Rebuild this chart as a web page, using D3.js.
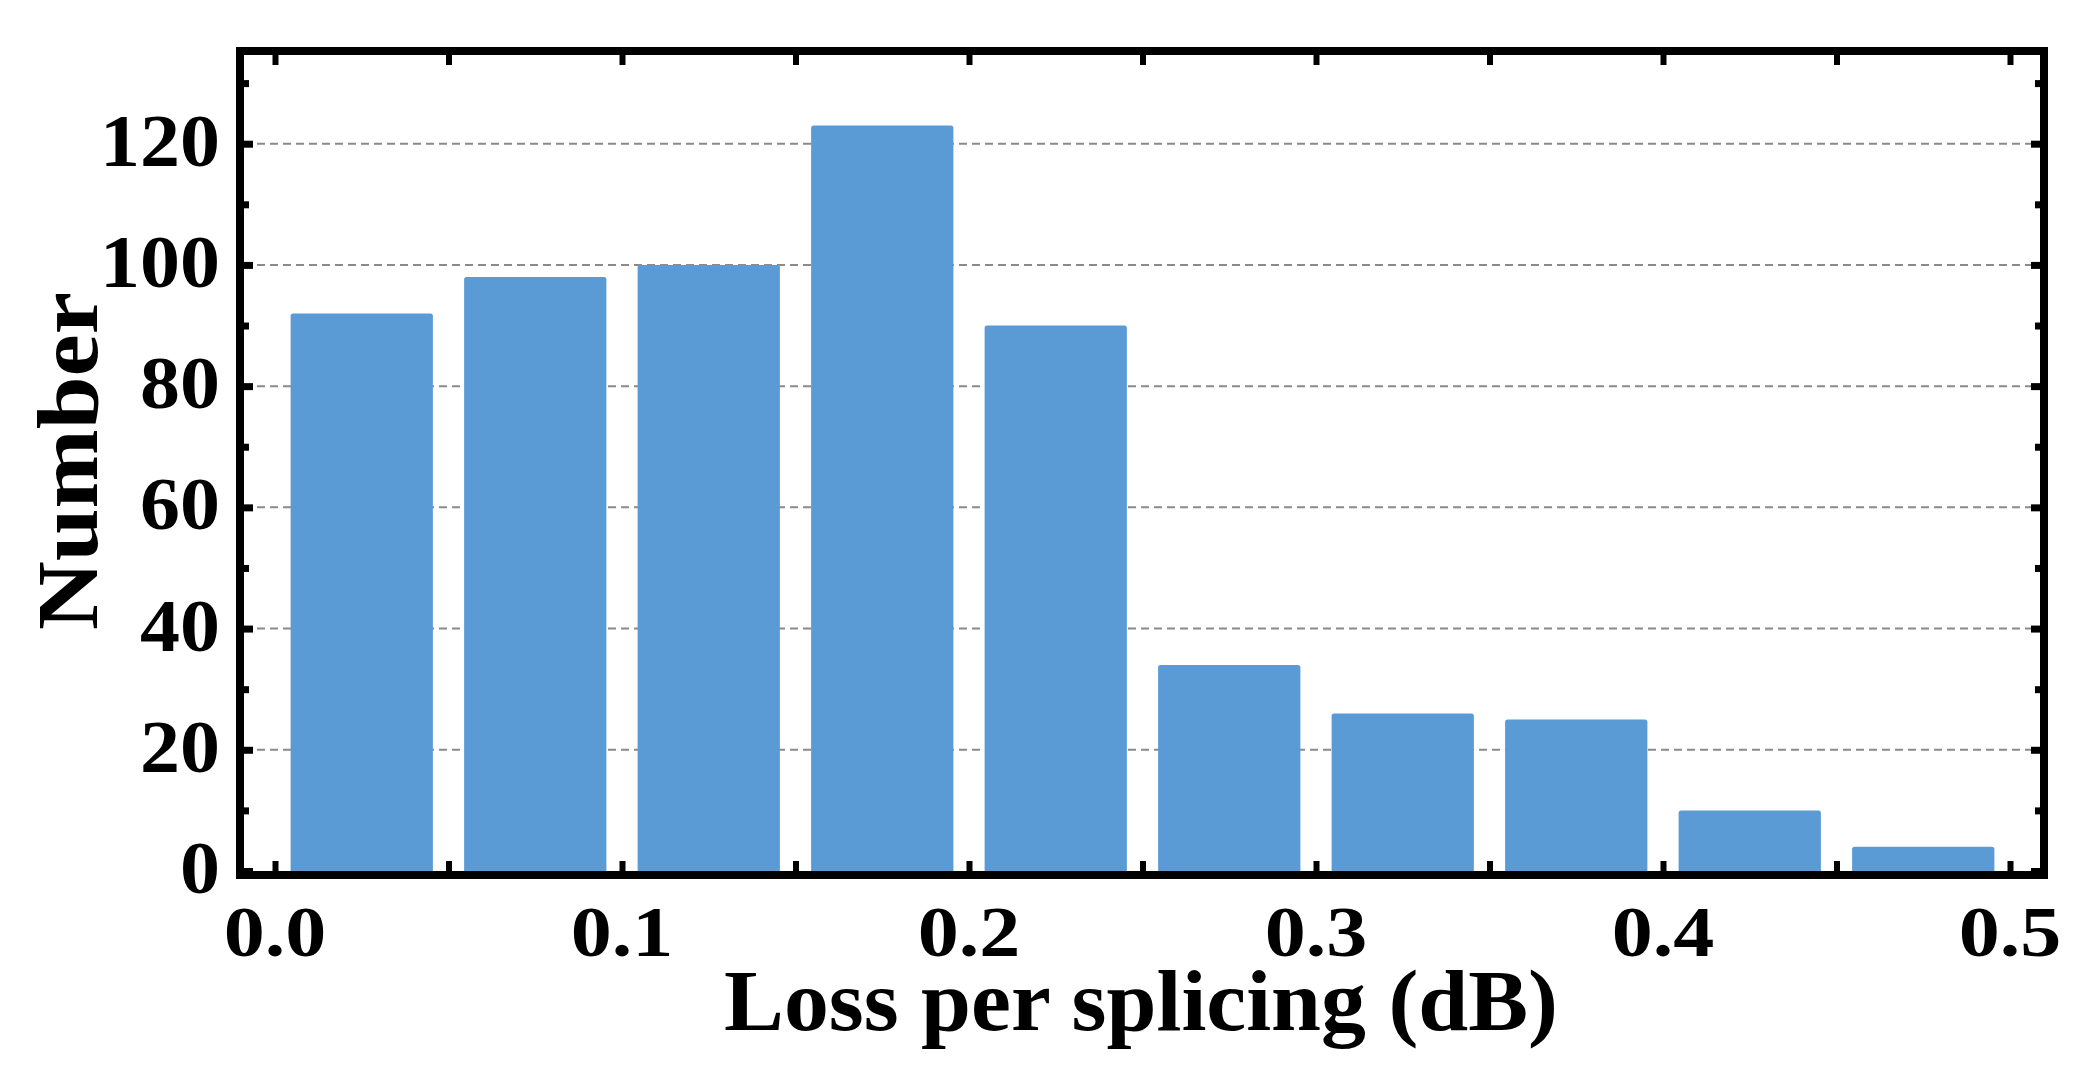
<!DOCTYPE html>
<html>
<head>
<meta charset="utf-8">
<script src="https://cdn.jsdelivr.net/npm/d3@7"></script>
<style>
  html, body { margin: 0; padding: 0; background: #ffffff; }
  svg { display: block; }
  text { font-family: "Liberation Serif", "Times New Roman", serif; font-weight: bold; fill: #000; }
</style>
</head>
<body>
<svg id="chart" width="2091" height="1078"></svg>
<script>
// ---- data ----
const binStarts = [0.00, 0.05, 0.10, 0.15, 0.20, 0.25, 0.30, 0.35, 0.40, 0.45];
const counts    = [92, 98, 100, 123, 90, 34, 26, 25, 10, 4];
const binWidth  = 0.05;
const xTickValues  = [0, 0.05, 0.1, 0.15, 0.2, 0.25, 0.3, 0.35, 0.4, 0.45, 0.5];
const xTickLabels  = ["0.0", "0.1", "0.2", "0.3", "0.4", "0.5"];
const yMajorTicks  = [0, 20, 40, 60, 80, 100, 120];
const yMinorTicks  = [10, 30, 50, 70, 90, 110, 130];
const yGridValues  = [20, 40, 60, 80, 100, 120];
const xTitle = "Loss per splicing (dB)";
const yTitle = "Number";

// ---- layout ----
const svg = d3.select("#chart");
const frame = { left: 240, right: 2044, top: 51, bottom: 875, stroke: 8 };
const innerLeft = frame.left + frame.stroke / 2;
const innerRight = frame.right - frame.stroke / 2;
const innerBottom = frame.bottom - frame.stroke / 2;

const x = d3.scaleLinear().domain([0, 0.5]).range([275, 2010]);
const y = d3.scaleLinear().domain([0, 120]).range([innerBottom, 143.7]);

const barColor = "#5b9bd5";

// gridlines
svg.append("g").selectAll("line").data(yGridValues).join("line")
  .attr("x1", innerLeft).attr("x2", innerRight)
  .attr("y1", d => y(d)).attr("y2", d => y(d))
  .attr("stroke", "#8a8a8a").attr("stroke-width", 2)
  .attr("stroke-dasharray", "8,5");

// bars
const inset = binWidth * 0.09;
svg.append("g").selectAll("rect").data(counts).join("rect")
  .attr("x", (d, i) => x(binStarts[i] + inset))
  .attr("width", (d, i) => x(binStarts[i] + binWidth - inset) - x(binStarts[i] + inset))
  .attr("y", d => y(d))
  .attr("height", d => y(0) - y(d) + 6)
  .attr("rx", 2.5)
  .attr("fill", barColor);

// ticks (inward) via d3 axes
function styleTicks(g, width) {
  g.select(".domain").remove();
  g.selectAll(".tick line").attr("stroke", "#000").attr("stroke-width", width).attr("stroke-linecap", "butt");
  g.selectAll(".tick text").remove();
}
svg.append("g").attr("transform", `translate(0,${innerBottom})`)
  .call(d3.axisBottom(x).tickValues(xTickValues).tickSize(-10))
  .call(g => styleTicks(g, 6));
svg.append("g").attr("transform", `translate(0,${frame.top + frame.stroke / 2})`)
  .call(d3.axisTop(x).tickValues(xTickValues).tickSize(-10))
  .call(g => styleTicks(g, 6));
svg.append("g").attr("transform", `translate(${innerLeft},0)`)
  .call(d3.axisLeft(y).tickValues(yMajorTicks).tickSize(-9))
  .call(g => styleTicks(g, 7));
svg.append("g").attr("transform", `translate(${innerLeft},0)`)
  .call(d3.axisLeft(y).tickValues(yMinorTicks).tickSize(-5))
  .call(g => styleTicks(g, 7));
svg.append("g").attr("transform", `translate(${innerRight},0)`)
  .call(d3.axisRight(y).tickValues(yMajorTicks).tickSize(-9))
  .call(g => styleTicks(g, 7));
svg.append("g").attr("transform", `translate(${innerRight},0)`)
  .call(d3.axisRight(y).tickValues(yMinorTicks).tickSize(-5))
  .call(g => styleTicks(g, 7));

// frame
svg.append("rect")
  .attr("x", frame.left).attr("y", frame.top)
  .attr("width", frame.right - frame.left).attr("height", frame.bottom - frame.top)
  .attr("fill", "none").attr("stroke", "#000").attr("stroke-width", frame.stroke);

// stretch helper (reference font is wider than Liberation Serif)
function stretch(sel, factor) {
  sel.each(function () {
    const len = this.getComputedTextLength();
    d3.select(this).attr("textLength", len * factor).attr("lengthAdjust", "spacingAndGlyphs");
  });
}

// x tick labels
svg.append("g").selectAll("text").data(xTickLabels).join("text")
  .attr("x", d => x(+d)).attr("y", 956)
  .attr("text-anchor", "middle")
  .attr("font-size", 72)
  .text(d => d)
  .call(s => stretch(s, 1.14));

// y tick labels
svg.append("g").selectAll("text").data(yMajorTicks).join("text")
  .attr("x", 220).attr("y", d => y(d) + 22)
  .attr("text-anchor", "end")
  .attr("font-size", 74)
  .text(d => d)
  .call(s => stretch(s, 1.08));

// axis titles
const xt = svg.append("text")
  .attr("x", 1141).attr("y", 1030)
  .attr("text-anchor", "middle")
  .attr("font-size", 86)
  .text(xTitle);
xt.attr("textLength", 834).attr("lengthAdjust", "spacingAndGlyphs");

const yt = svg.append("text")
  .attr("transform", "translate(97,461) rotate(-90)")
  .attr("text-anchor", "middle")
  .attr("font-size", 86)
  .text(yTitle);
yt.attr("textLength", 338).attr("lengthAdjust", "spacingAndGlyphs");
</script>
</body>
</html>
